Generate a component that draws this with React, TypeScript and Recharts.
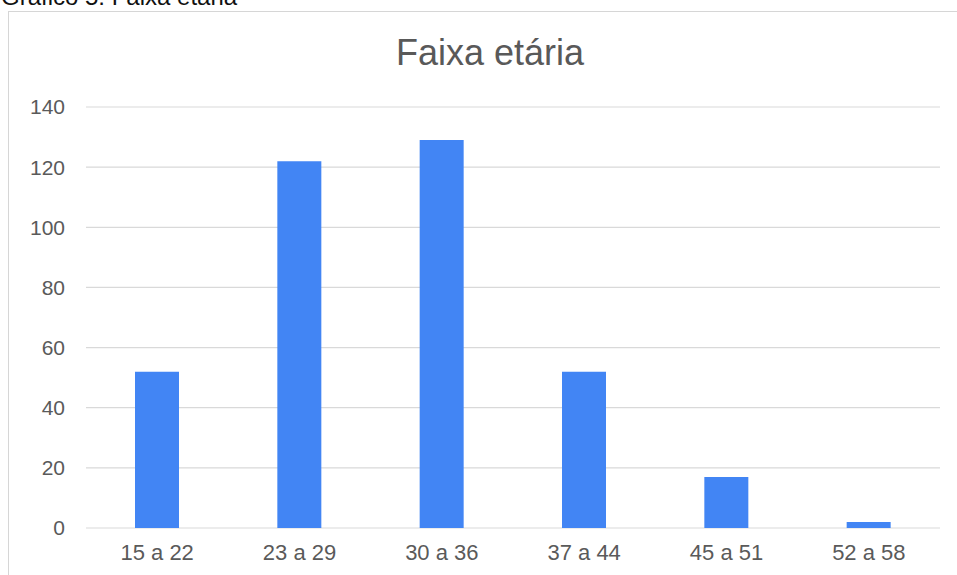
import { BarChart, Bar, XAxis, YAxis, CartesianGrid } from 'recharts';

// age bands and respondent counts
const faixas = ['15 a 22', '23 a 29', '30 a 36', '37 a 44', '45 a 51', '52 a 58'];
const respondentes = [52, 122, 129, 52, 17, 2];
const yTicks = [0, 20, 40, 60, 80, 100, 120, 140];

const data = faixas.map((faixa, i) => ({ faixa, total: respondentes[i] }));

const FONT = '"Liberation Sans", Arial, sans-serif';

export default function App() {
  return (
    <div style={{ position: 'fixed', left: 0, top: 0, width: 957, height: 575, overflow: 'hidden', background: '#fff', fontFamily: FONT }}>
      <div style={{ position: 'absolute', left: 1, top: -17, fontSize: 24, color: '#111', whiteSpace: 'nowrap' }}>
        Gráfico 5: Faixa etária
      </div>
      <div
        style={{
          position: 'absolute',
          left: 8,
          top: 11,
          width: 964,
          height: 590,
          border: '1px solid #d6d6d6',
          background: '#fff',
        }}
      >
        <div
          style={{
            position: 'absolute',
            left: 0,
            top: 21,
            width: 962,
            textAlign: 'center',
            fontSize: 36,
            color: '#595959',
            lineHeight: '40px',
          }}
        >
          Faixa etária
        </div>
        <BarChart
          width={964}
          height={590}
          data={data}
          margin={{ top: 95, right: 33, bottom: 34, left: 0 }}
        >
          <CartesianGrid vertical={false} stroke="#d9d9d9" strokeWidth={1.2} />
          <XAxis
            dataKey="faixa"
            axisLine={false}
            tickLine={false}
            tickSize={0}
            tickMargin={16}
            height={40}
            tick={{ fill: '#5a5a5a', fontSize: 22, fontFamily: FONT }}
          />
          <YAxis
            domain={[0, 140]}
            ticks={yTicks}
            width={77}
            axisLine={false}
            tickLine={false}
            tickSize={0}
            tickMargin={21}
            tick={{ fill: '#5a5a5a', fontSize: 21, fontFamily: FONT }}
          />
          <Bar dataKey="total" fill="#4285f4" barSize={44} isAnimationActive={false} />
        </BarChart>
      </div>
    </div>
  );
}
